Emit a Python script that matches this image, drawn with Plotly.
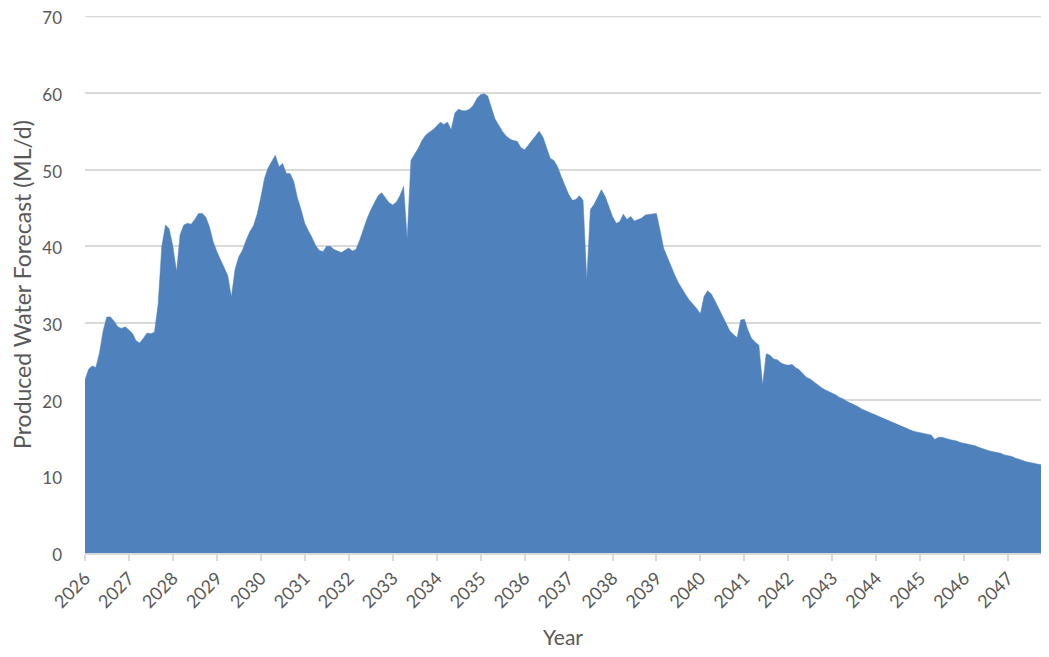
import plotly.graph_objects as go
import pandas as pd

start_month = "2026-01-01"
years = list(range(2026, 2048))

produced_water = [
    22.6, 24.0, 24.4, 24.2, 26.1, 29.0, 30.8, 30.8, 30.2, 29.5, 29.3, 29.5,   # 2026
    29.1, 28.6, 27.7, 27.4, 28.0, 28.7, 28.6, 28.8, 32.5, 40.0, 42.8, 42.3,   # 2027
    40.0, 36.7, 41.5, 42.8, 43.0, 42.9, 43.5, 44.3, 44.3, 43.8, 42.5, 40.6,   # 2028
    39.3, 38.2, 37.1, 36.2, 33.4, 37.0, 38.6, 39.5, 40.8, 41.9, 42.7, 44.2,   # 2029
    46.4, 48.9, 50.2, 51.0, 51.9, 50.4, 50.8, 49.5, 49.5, 48.5, 46.3, 44.8,   # 2030
    43.0, 42.0, 41.2, 40.1, 39.5, 39.3, 40.0, 40.0, 39.6, 39.4, 39.2, 39.5,   # 2031
    39.8, 39.4, 39.6, 40.8, 42.3, 43.6, 44.7, 45.6, 46.6, 47.0, 46.4, 45.7,   # 2032
    45.4, 45.8, 46.6, 47.8, 41.0, 51.2, 52.0, 52.8, 53.8, 54.5, 54.9, 55.2,   # 2033
    55.7, 56.2, 55.9, 56.2, 55.2, 57.4, 57.9, 57.7, 57.7, 57.9, 58.4, 59.3,   # 2034
    59.8, 59.9, 59.6, 58.0, 56.6, 55.8, 55.0, 54.4, 54.0, 53.8, 53.7, 52.9,   # 2035
    52.6, 53.2, 53.8, 54.4, 55.0, 54.3, 52.8, 51.5, 51.2, 50.4, 49.1, 48.0,   # 2036
    46.8, 46.0, 46.1, 46.6, 46.0, 35.6, 44.8, 45.5, 46.5, 47.4, 46.5, 45.2,   # 2037
    43.9, 43.0, 43.2, 44.2, 43.5, 43.9, 43.3, 43.5, 43.7, 44.1, 44.2, 44.2,   # 2038
    44.3, 42.0, 39.8, 38.6, 37.4, 36.3, 35.3, 34.4, 33.7, 33.0, 32.5, 31.9,   # 2039
    31.2, 33.5, 34.2, 33.8, 32.9, 31.9, 30.9, 29.8, 29.0, 28.5, 28.1, 30.4,   # 2040
    30.5, 29.0, 28.0, 27.5, 27.1, 21.9, 26.0, 25.8, 25.3, 25.2, 24.8, 24.6,   # 2041
    24.5, 24.6, 24.2, 23.9, 23.4, 22.9, 22.7, 22.3, 21.9, 21.6, 21.3, 21.1,   # 2042
    20.8, 20.6, 20.3, 20.1, 19.8, 19.6, 19.3, 19.1, 18.8, 18.6, 18.4, 18.2,   # 2043
    18.0, 17.7, 17.5, 17.3, 17.1, 16.9, 16.7, 16.5, 16.3, 16.1, 15.9, 15.8,   # 2044
    15.7, 15.6, 15.5, 15.4, 14.8, 15.1, 15.1, 14.9, 14.8, 14.7, 14.6, 14.4,   # 2045
    14.3, 14.2, 14.1, 14.0, 13.8, 13.6, 13.4, 13.3, 13.2, 13.1, 13.0, 12.8,   # 2046
    12.7, 12.6, 12.4, 12.2, 12.0, 11.9, 11.8, 11.7, 11.6, 11.5,               # 2047
]

months = pd.date_range(start_month, periods=len(produced_water), freq="MS")
tick_vals = [pd.Timestamp(f"{y}-01-01") for y in years]
tick_text = [str(y) for y in years]
y_max = 70

FONT = "Lato, 'Open Sans', sans-serif"
GREY = "#595959"
GRID = "#d9d9d9"

fig = go.Figure()
fig.add_trace(go.Scatter(
    x=months, y=produced_water,
    mode="lines", fill="tozeroy",
    fillcolor="#4f81bd",
    line=dict(color="#4f81bd", width=0.5),
    hoverinfo="x+y",
    showlegend=False,
))

# top gridline (at the range edge)
fig.add_shape(type="line", xref="paper", x0=0, x1=1, yref="y", y0=y_max, y1=y_max,
              line=dict(color=GRID, width=1.5), layer="below")

fig.update_layout(
    width=1033, height=641,
    margin=dict(l=77, r=0, t=8, b=96),
    paper_bgcolor="white", plot_bgcolor="white",
    font=dict(family=FONT, color=GREY),
    xaxis=dict(
        type="date", automargin=False,
        range=[months[0], months[-1]],
        tickmode="array", tickvals=tick_vals, ticktext=tick_text,
        tickangle=-45, tickfont=dict(size=18, color=GREY),
        ticklabeloverflow="allow",
        ticks="outside", ticklen=6, tickcolor=GRID, tickwidth=1.5,
        showline=True, linecolor=GRID, linewidth=1.5,
        showgrid=False, zeroline=False,
        title=dict(text="Year", font=dict(size=21, color=GREY), standoff=24),
    ),
    yaxis=dict(
        automargin=False,
        range=[0, y_max + 0.05], dtick=10, tick0=0,
        tickfont=dict(size=17, color=GREY),
        ticklabeloverflow="allow",
        ticklabelshift=2,
        showgrid=True, gridcolor=GRID, gridwidth=1.5,
        zeroline=False, showline=False, ticks="",
        ticklabelstandoff=22,
        title=dict(text="Produced Water Forecast (ML/d)", font=dict(size=23, color=GREY), standoff=18),
    ),
)

fig.write_html("out.html")
